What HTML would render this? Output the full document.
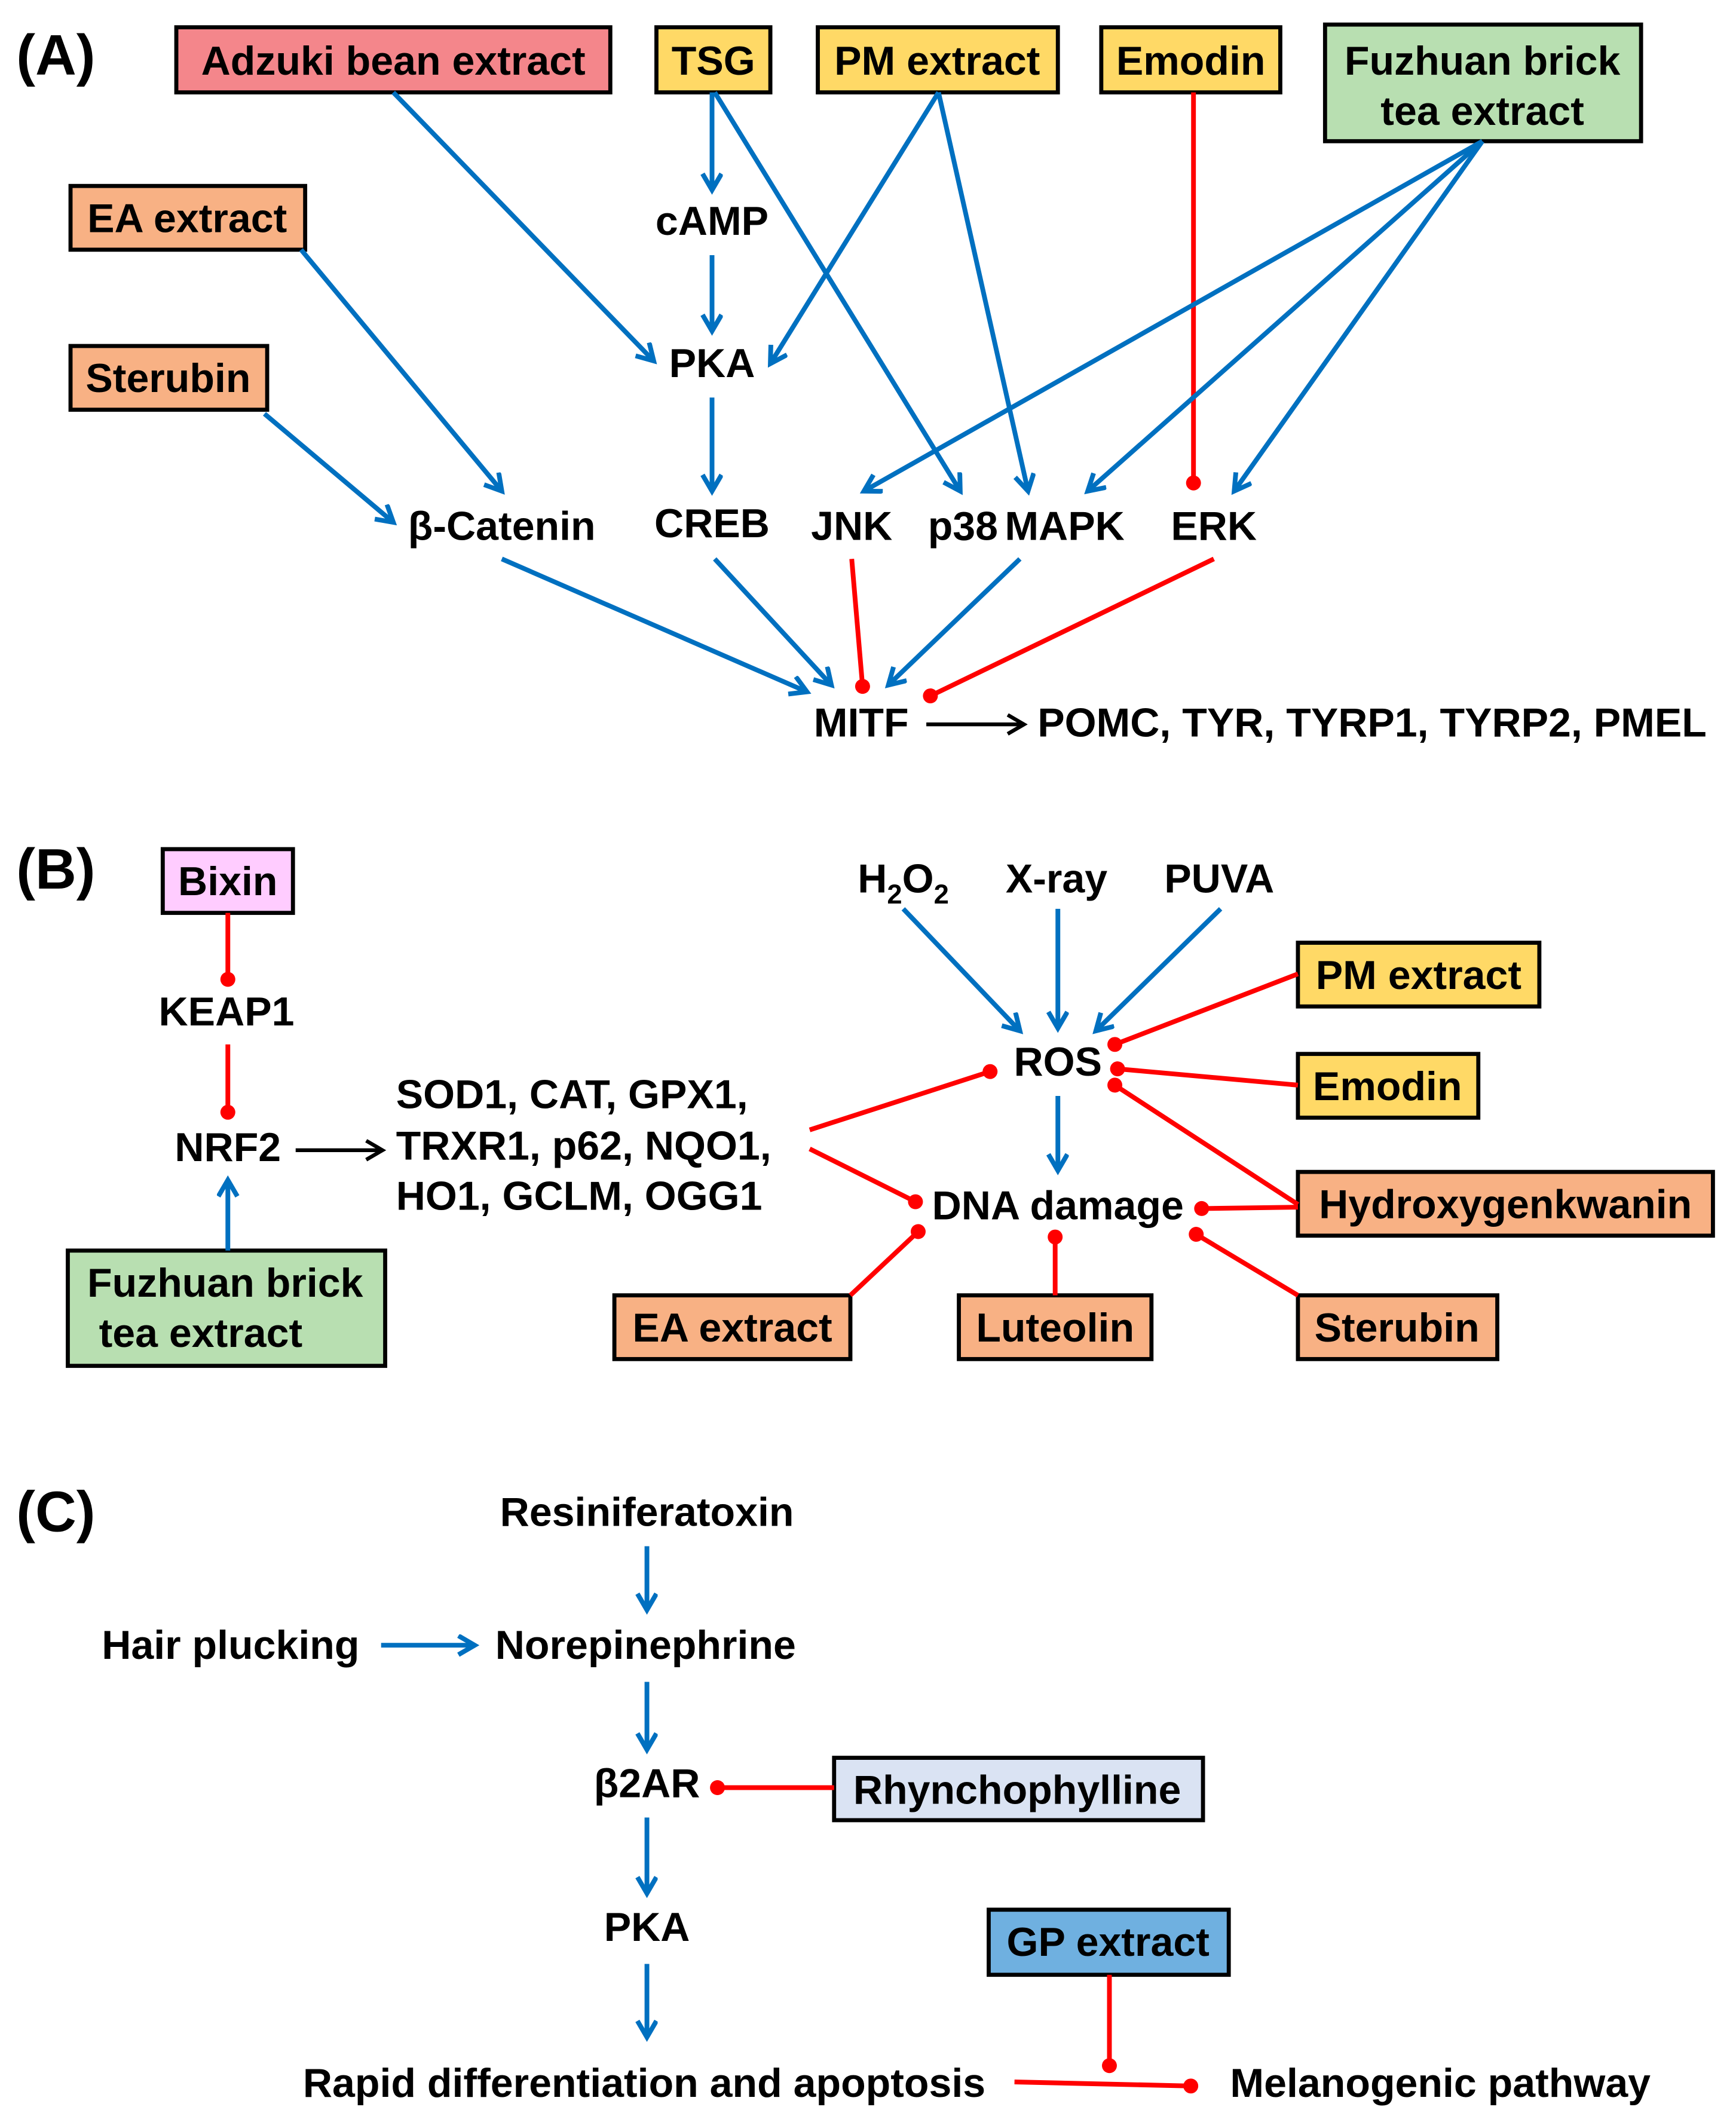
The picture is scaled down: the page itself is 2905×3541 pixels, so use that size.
<!DOCTYPE html>
<html><head><meta charset="utf-8"><style>
html,body{margin:0;padding:0;background:#fff}
svg{display:block}
text{font-family:"Liberation Sans",Arial,sans-serif;font-weight:bold;font-size:30px;fill:#000}
.b{stroke:#0070c0;stroke-width:3.5;fill:none}
.r{stroke:#ff0000;stroke-width:3.5;fill:none}
.k{stroke:#000;stroke-width:2.8;fill:none}
rect{stroke:#000;stroke-width:3}
</style></head><body>
<svg width="2905" height="3541" viewBox="0 0 1280 1560" xmlns="http://www.w3.org/2000/svg">
<defs>
<marker id="ab" markerWidth="20" markerHeight="20" refX="14" refY="8" orient="auto" markerUnits="userSpaceOnUse"><polyline points="2,1 14,8 2,15" fill="none" stroke="#0070c0" stroke-width="3.5"/></marker>
<marker id="ak" markerWidth="20" markerHeight="20" refX="14" refY="8" orient="auto" markerUnits="userSpaceOnUse"><polyline points="2,1 14,8 2,15" fill="none" stroke="#000" stroke-width="2.8"/></marker>
<marker id="dr" markerWidth="14" markerHeight="14" refX="7" refY="7" orient="auto" markerUnits="userSpaceOnUse"><circle cx="7" cy="7" r="5.5" fill="#ff0000"/></marker>
</defs>

<!-- Panel A -->
<text x="12" y="55" style="font-size:42px">(A)</text>
<rect x="130" y="20" width="320" height="48" fill="#f4868b"/><text x="290" y="55" text-anchor="middle">Adzuki bean extract</text>
<rect x="484" y="20" width="84" height="48" fill="#ffd966"/><text x="526" y="55" text-anchor="middle">TSG</text>
<rect x="603" y="20" width="177" height="48" fill="#ffd966"/><text x="691" y="55" text-anchor="middle">PM extract</text>
<rect x="812" y="20" width="132" height="48" fill="#ffd966"/><text x="878" y="55" text-anchor="middle">Emodin</text>
<rect x="977" y="18" width="233" height="86" fill="#b8dfb1"/><text x="1093" y="55" text-anchor="middle">Fuzhuan brick</text><text x="1093" y="92" text-anchor="middle">tea extract</text>
<rect x="52" y="137" width="173" height="47" fill="#f8b184"/><text x="138" y="171" text-anchor="middle">EA extract</text>
<rect x="52" y="255" width="145" height="47" fill="#f8b184"/><text x="124" y="289" text-anchor="middle">Sterubin</text>

<text x="525" y="173" text-anchor="middle">cAMP</text>
<text x="525" y="278" text-anchor="middle">PKA</text>
<text x="525" y="396" text-anchor="middle">CREB</text>
<text x="370" y="398" text-anchor="middle">β-Catenin</text>
<text x="628" y="398" text-anchor="middle">JNK</text>
<text x="710" y="398" text-anchor="middle">p38</text>
<text x="785" y="398" text-anchor="middle">MAPK</text>
<text x="895" y="398" text-anchor="middle">ERK</text>
<text x="635" y="543" text-anchor="middle">MITF</text>
<text x="765" y="543">POMC, TYR, TYRP1, TYRP2, PMEL</text>

<line class="b" x1="290" y1="68" x2="482" y2="266" marker-end="url(#ab)"/>
<line class="b" x1="525" y1="68" x2="525" y2="140" marker-end="url(#ab)"/>
<line class="b" x1="525" y1="188" x2="525" y2="244" marker-end="url(#ab)"/>
<line class="b" x1="525" y1="293" x2="525" y2="362" marker-end="url(#ab)"/>
<line class="b" x1="527" y1="68" x2="708" y2="362" marker-end="url(#ab)"/>
<line class="b" x1="692" y1="68" x2="568" y2="268" marker-end="url(#ab)"/>
<line class="b" x1="692" y1="68" x2="758" y2="362" marker-end="url(#ab)"/>
<line class="r" x1="880" y1="68" x2="880" y2="356" marker-end="url(#dr)"/>
<line class="b" x1="1093" y1="104" x2="637" y2="362" marker-end="url(#ab)"/>
<line class="b" x1="1093" y1="104" x2="802" y2="362" marker-end="url(#ab)"/>
<line class="b" x1="1093" y1="104" x2="910" y2="362" marker-end="url(#ab)"/>
<line class="b" x1="222" y1="184" x2="370" y2="362" marker-end="url(#ab)"/>
<line class="b" x1="195" y1="305" x2="290" y2="385" marker-end="url(#ab)"/>
<line class="b" x1="370" y1="412" x2="595" y2="510" marker-end="url(#ab)"/>
<line class="b" x1="527" y1="412" x2="613" y2="505" marker-end="url(#ab)"/>
<line class="r" x1="628" y1="412" x2="636" y2="506" marker-end="url(#dr)"/>
<line class="b" x1="752" y1="412" x2="655" y2="505" marker-end="url(#ab)"/>
<line class="r" x1="895" y1="412" x2="686" y2="513" marker-end="url(#dr)"/>
<line class="k" x1="683" y1="534" x2="755" y2="534" marker-end="url(#ak)"/>

<!-- Panel B -->
<text x="12" y="655" style="font-size:42px">(B)</text>
<rect x="120" y="626" width="96" height="47" fill="#ffccff"/><text x="168" y="660" text-anchor="middle">Bixin</text>
<line class="r" x1="168" y1="673" x2="168" y2="722" marker-end="url(#dr)"/>
<text x="167" y="756" text-anchor="middle">KEAP1</text>
<line class="r" x1="168" y1="770" x2="168" y2="820" marker-end="url(#dr)"/>
<text x="168" y="856" text-anchor="middle">NRF2</text>
<rect x="50" y="922" width="234" height="85" fill="#b8dfb1"/><text x="166" y="956" text-anchor="middle">Fuzhuan brick</text><text x="148" y="993" text-anchor="middle">tea extract</text>
<line class="b" x1="168" y1="922" x2="168" y2="870" marker-end="url(#ab)"/>
<line class="k" x1="218" y1="848" x2="282" y2="848" marker-end="url(#ak)"/>
<text x="292" y="817">SOD1, CAT, GPX1,</text>
<text x="292" y="855">TRXR1, p62, NQO1,</text>
<text x="292" y="892">HO1, GCLM, OGG1</text>

<text x="666" y="658" text-anchor="middle">H<tspan font-size="20" dy="8">2</tspan><tspan dy="-8">O</tspan><tspan font-size="20" dy="8">2</tspan></text>
<text x="779" y="658" text-anchor="middle">X-ray</text>
<text x="899" y="658" text-anchor="middle">PUVA</text>
<line class="b" x1="666" y1="670" x2="752" y2="760" marker-end="url(#ab)"/>
<line class="b" x1="780" y1="670" x2="780" y2="758" marker-end="url(#ab)"/>
<line class="b" x1="900" y1="670" x2="808" y2="760" marker-end="url(#ab)"/>
<text x="780" y="793" text-anchor="middle">ROS</text>
<line class="b" x1="780" y1="808" x2="780" y2="863" marker-end="url(#ab)"/>
<text x="780" y="899" text-anchor="middle">DNA damage</text>

<rect x="957" y="695" width="178" height="47" fill="#ffd966"/><text x="1046" y="729" text-anchor="middle">PM extract</text>
<rect x="957" y="777" width="133" height="47" fill="#ffd966"/><text x="1023" y="811" text-anchor="middle">Emodin</text>
<rect x="957" y="864" width="306" height="47" fill="#f8b184"/><text x="1110" y="898" text-anchor="middle">Hydroxygenkwanin</text>
<rect x="453" y="955" width="174" height="47" fill="#f8b184"/><text x="540" y="989" text-anchor="middle">EA extract</text>
<rect x="707" y="955" width="142" height="47" fill="#f8b184"/><text x="778" y="989" text-anchor="middle">Luteolin</text>
<rect x="957" y="955" width="147" height="47" fill="#f8b184"/><text x="1030" y="989" text-anchor="middle">Sterubin</text>

<line class="r" x1="957" y1="718" x2="822" y2="770" marker-end="url(#dr)"/>
<line class="r" x1="957" y1="800" x2="824" y2="788" marker-end="url(#dr)"/>
<line class="r" x1="957" y1="888" x2="822" y2="800" marker-end="url(#dr)"/>
<line class="r" x1="957" y1="890" x2="886" y2="891" marker-end="url(#dr)"/>
<line class="r" x1="627" y1="955" x2="677" y2="908" marker-end="url(#dr)"/>
<line class="r" x1="778" y1="955" x2="778" y2="912" marker-end="url(#dr)"/>
<line class="r" x1="957" y1="955" x2="882" y2="910" marker-end="url(#dr)"/>
<line class="r" x1="597" y1="833" x2="730" y2="790" marker-end="url(#dr)"/>
<line class="r" x1="597" y1="847" x2="675" y2="886" marker-end="url(#dr)"/>

<!-- Panel C -->
<text x="12" y="1129" style="font-size:42px">(C)</text>
<text x="477" y="1125" text-anchor="middle">Resiniferatoxin</text>
<line class="b" x1="477" y1="1140" x2="477" y2="1187" marker-end="url(#ab)"/>
<text x="476" y="1223" text-anchor="middle">Norepinephrine</text>
<text x="170" y="1223" text-anchor="middle">Hair plucking</text>
<line class="b" x1="281" y1="1213" x2="350" y2="1213" marker-end="url(#ab)"/>
<line class="b" x1="477" y1="1240" x2="477" y2="1290" marker-end="url(#ab)"/>
<text x="477" y="1325" text-anchor="middle">β2AR</text>
<rect x="615" y="1296" width="272" height="46" fill="#dae3f3"/><text x="750" y="1330" text-anchor="middle">Rhynchophylline</text>
<line class="r" x1="615" y1="1318" x2="529" y2="1318" marker-end="url(#dr)"/>
<line class="b" x1="477" y1="1340" x2="477" y2="1396" marker-end="url(#ab)"/>
<text x="477" y="1431" text-anchor="middle">PKA</text>
<line class="b" x1="477" y1="1448" x2="477" y2="1502" marker-end="url(#ab)"/>
<text x="475" y="1546" text-anchor="middle">Rapid differentiation and apoptosis</text>
<rect x="729" y="1408" width="177" height="48" fill="#6fb0e0"/><text x="817" y="1442" text-anchor="middle">GP extract</text>
<line class="r" x1="818" y1="1456" x2="818" y2="1523" marker-end="url(#dr)"/>
<line class="r" x1="748" y1="1535" x2="878" y2="1538" marker-end="url(#dr)"/>
<text x="1062" y="1546" text-anchor="middle">Melanogenic pathway</text>
</svg>
</body></html>
